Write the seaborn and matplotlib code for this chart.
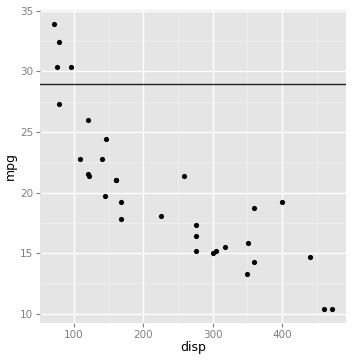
import matplotlib
matplotlib.use("Agg")
import matplotlib.pyplot as plt
import seaborn as sns
import pandas as pd
import numpy as np

mpg = [21.0, 21.0, 22.8, 21.4, 18.7, 18.1, 14.3, 24.4, 22.8, 19.2, 17.8, 16.4, 17.3, 15.2,
       10.4, 10.4, 14.7, 32.4, 30.4, 33.9, 21.5, 15.5, 15.2, 13.3, 19.2, 27.3, 26.0, 30.4,
       15.8, 19.7, 15.0, 21.4]
disp = [160, 160, 108, 258, 360, 225, 360, 146.7, 140.8, 167.6, 167.6, 275.8, 275.8, 275.8,
        472, 460, 440, 78.7, 75.7, 71.1, 120.1, 318, 304, 350, 400, 79, 120.3, 95.1,
        351, 145, 301, 121]
hline_y = 29
x_ticks = [100, 200, 300, 400]
y_ticks = [10, 15, 20, 25, 30, 35]

df = pd.DataFrame({"disp": disp, "mpg": mpg})

fig = plt.figure(figsize=(3.6, 3.6), dpi=100)
ax = fig.add_axes([40/360, 1 - 323/360, 306/360, 313/360])
ax.set_facecolor("#E5E5E5")

x_minor = [50, 150, 250, 350, 450]
y_minor = [12.5, 17.5, 22.5, 27.5, 32.5]
for v in x_minor:
    ax.axvline(v, color="#F2F2F2", lw=0.5, zorder=0)
for v in y_minor:
    ax.axhline(v, color="#F2F2F2", lw=0.5, zorder=0)
for v in x_ticks:
    ax.axvline(v, color="white", lw=1.0, zorder=0.5)
for v in y_ticks:
    ax.axhline(v, color="white", lw=1.0, zorder=0.5)

sns.scatterplot(data=df, x="disp", y="mpg", ax=ax, color="black", s=14,
                edgecolor="black", linewidth=0, zorder=3)
ax.axhline(hline_y, color="#222222", lw=1.0, zorder=2)

ax.set_xlim(51.05, 492.05)
ax.set_ylim(9.225, 35.075)
ax.set_xticks(x_ticks)
ax.set_yticks(y_ticks)
ax.set_xticklabels([str(t) for t in x_ticks])
ax.set_yticklabels([str(t) for t in y_ticks])
for s in ax.spines.values():
    s.set_visible(False)
ax.tick_params(axis="both", colors="#7F7F7F", labelcolor="#7F7F7F", labelsize=7.5,
               length=3, width=0.8, pad=2)
ax.set_xlabel("disp", fontsize=9, color="black", labelpad=1)
ax.set_ylabel("mpg", fontsize=9, color="black", labelpad=2)

fig.savefig("out.png", dpi=100)
